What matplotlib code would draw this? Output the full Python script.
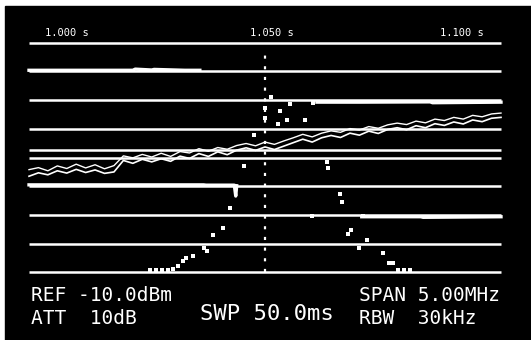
import numpy as np
import matplotlib
matplotlib.use('Agg')
from matplotlib import pyplot as plt
from matplotlib.patches import Rectangle

# screen grid (dB levels), x in divisions
grid_levels = [0, -10, -20, -30, -40, -50, -60, -70, -80]
display_line = -37.2
center_x = 5.0

# top labels
top_labels = ['1.000 s', '1.050 s', '1.100 s']
top_label_x = [0.34, 4.68, 8.71]

# bottom readout
bottom_text = ['REF -10.0dBm\nATT  10dB', 'SWP 50.0ms', 'SPAN 5.00MHz\nRBW  30kHz']
bottom_text_x = [0.05, 3.62, 7.0]
bottom_text_y = [-92, -94.5, -92]
bottom_text_size = [14, 16, 14]

# trace A (flat, upper left)
trace_a_x = [0.0, 1.0, 2.2, 2.25, 2.6, 2.65, 3.3, 3.62]
trace_a_y = [-9.6, -9.6, -9.6, -9.2, -9.5, -9.3, -9.6, -9.6]

# trace B (flat, upper right)
trace_b_x = [6.1, 7.0, 8.5, 8.55, 10.0]
trace_b_y = [-20.7, -20.7, -20.6, -20.9, -20.7]

# trace C (noisy rising sweep), lower and upper edge of the noise band
trace_c_x = np.arange(0, 10.01, 0.2)
trace_c_y = [-46.5, -45.3, -46.0, -44.6, -45.4, -44.1, -45.2, -44.3, -45.5, -45.0,
             -41.0, -42.0, -40.6, -41.5, -40.4, -41.3, -39.5, -40.3, -38.6, -39.6,
             -38.0, -39.0, -37.4, -36.6, -37.5, -36.3, -37.2, -36.0, -34.8, -33.6,
             -34.6, -33.1, -32.3, -33.0, -31.5, -32.2, -30.8, -31.6, -30.2, -29.6,
             -30.3, -28.9, -29.6, -28.2, -28.8, -27.6, -28.3, -26.9, -27.5, -26.3,
             -26.0]
trace_c2_y = [-44.2, -43.5, -44.6, -42.9, -43.8, -42.3, -43.6, -42.5, -43.9, -42.8,
              -39.4, -40.1, -38.9, -39.8, -38.5, -39.6, -37.9, -38.4, -36.9, -37.8,
              -36.5, -37.1, -35.8, -35.1, -35.9, -34.6, -35.4, -34.2, -33.1, -31.9,
              -32.8, -31.5, -30.7, -31.2, -29.9, -30.4, -29.2, -29.8, -28.6, -28.0,
              -28.5, -27.3, -27.9, -26.6, -27.1, -26.0, -26.6, -25.3, -25.8, -24.8,
              -24.5]
stray_x = [4.76, 4.55, 6.31, 6.33]
stray_y = [-32.3, -43.0, -41.5, -43.6]

# trace D (flat, lower left)
trace_d_x = [0.0, 3.7, 3.75, 4.35, 4.38, 4.4]
trace_d_y = [-49.5, -49.5, -49.6, -49.6, -53.4, -49.8]

# trace E (flat, lower right)
trace_e_x = [7.05, 8.3, 8.35, 10.0]
trace_e_y = [-60.6, -60.6, -60.8, -60.6]
blip_e_x = [6.0, 7.08]
blip_e_y = [-60.3, -60.4]

# peak points
peak_x = [2.56, 2.69, 2.82, 2.94, 3.05, 3.16, 3.26, 3.33, 3.47, 3.71, 3.77, 3.90,
          4.11, 4.26, 4.56, 4.77, 5.00, 5.00, 5.13, 5.32, 5.28, 5.47, 5.53, 5.85,
          6.02, 6.31, 6.33, 6.59, 6.63, 6.82, 6.76, 6.99, 7.16, 7.50, 7.63, 7.71,
          7.82, 7.94, 8.07]
peak_y = [-79.1, -79.1, -79.1, -79.1, -78.8, -77.7, -76.0, -75.0, -74.3, -71.5, -72.5, -66.9,
          -64.5, -57.6, -42.9, -32.1, -26.2, -22.7, -18.9, -23.8, -28.3, -26.9, -21.3, -26.9,
          -21.0, -41.5, -43.6, -52.7, -55.5, -65.2, -66.6, -71.5, -68.7, -73.2, -76.7, -76.7,
          -79.1, -79.1, -79.1]

fig = plt.figure(figsize=(5.31, 3.40), dpi=100, facecolor='white')
fig.patches.append(Rectangle((5 / 531, 0), 1 - 5 / 531, 334 / 340,
                             transform=fig.transFigure, color='black', zorder=-10))
ax = fig.add_axes([0.03684, 0.18176, 0.92444, 0.70953])
ax.set_zorder(5)
ax.set_facecolor('none')
ax.set_xlim(-0.2, 10.2)
ax.set_ylim(-82, 2)
ax.axis('off')

w = 'white'
ax.hlines(grid_levels, 0, 10, color=w, lw=1.8)
ax.hlines(display_line, 0, 10, color=w, lw=1.8)
ax.vlines(center_x, -80, -2, color=w, lw=1.6, linestyles=(0, (1.4, 3.4)))

ax.plot(trace_a_x, trace_a_y, color=w, lw=2.4)
ax.plot(trace_b_x, trace_b_y, color=w, lw=2.4)
ax.plot(trace_c_x, trace_c_y, color=w, lw=1.2)
ax.plot(trace_c_x, trace_c2_y, color=w, lw=1.0)
ax.scatter(stray_x, stray_y, color=w, marker='s', s=5, lw=0)
ax.plot(trace_d_x, trace_d_y, color=w, lw=2.4)
ax.plot(trace_e_x, trace_e_y, color=w, lw=2.4)
ax.scatter(blip_e_x, blip_e_y, color=w, marker='s', s=6, lw=0)
ax.scatter(peak_x, peak_y, color=w, marker='s', s=6, lw=0)

for x, t in zip(top_label_x, top_labels):
    ax.text(x, 3.4, t, color=w, fontsize=7.5, family='DejaVu Sans Mono',
            ha='left', va='center', clip_on=False)

for x, y, t, fs in zip(bottom_text_x, bottom_text_y, bottom_text, bottom_text_size):
    ax.text(x, y, t, color=w, fontsize=fs, family='DejaVu Sans Mono',
            ha='left', va='center', linespacing=1.25, clip_on=False)

fig.savefig('out.png', dpi=100, facecolor=fig.get_facecolor())
